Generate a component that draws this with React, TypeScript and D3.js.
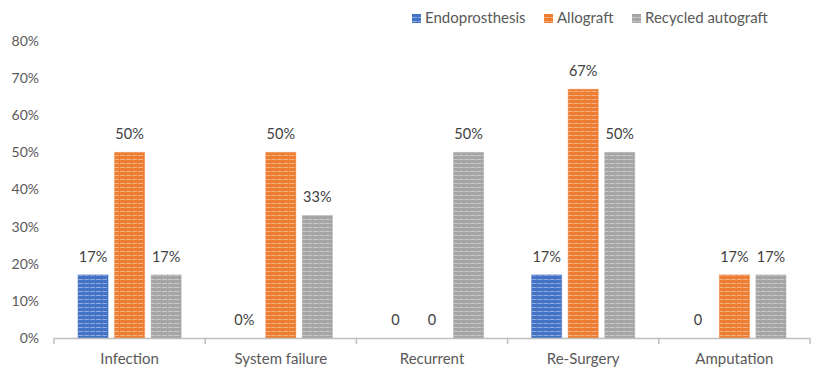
import React from "react";
import * as d3 from "d3";

const categories = ["Infection", "System failure", "Recurrent", "Re-Surgery", "Amputation"];
const seriesNames = ["Endoprosthesis", "Allograft", "Recycled autograft"];
const endoprosthesis = [0.17, 0, 0, 0.17, 0];
const allograft = [0.5, 0.5, 0, 0.67, 0.17];
const recycledAutograft = [0.17, 0.33, 0.5, 0.5, 0.17];
const endoLabels = ["17%", "0%", "0", "17%", "0"];
const alloLabels = ["50%", "50%", "0", "67%", "17%"];
const recycledLabels = ["17%", "33%", "50%", "50%", "17%"];
const yTicks = [0, 0.1, 0.2, 0.3, 0.4, 0.5, 0.6, 0.7, 0.8];
const colors = ["#4472C4", "#ED7D31", "#A5A5A5"];

const W = 817;
const H = 375;
const FONT = "Lato, 'Noto Sans', sans-serif";
const TEXT = "#595959";

export default function App() {
  const values = [endoprosthesis, allograft, recycledAutograft];
  const labels = [endoLabels, alloLabels, recycledLabels];
  const y = d3.scaleLinear().domain([0, 0.8]).range([338, 41]);
  const x0 = d3.scaleBand<string>().domain(categories).range([54, 810]).padding(0);
  const x1 = d3
    .scaleBand<string>()
    .domain(seriesNames)
    .range([0, x0.bandwidth()])
    .paddingInner(0.178)
    .paddingOuter(0.657);
  const fmt = d3.format(".0%");
  const boundaries = [...categories.map((c) => x0(c)!), x0.range()[1]];
  const legendX = [412, 544, 632];

  return (
    <svg width={W} height={H} style={{ position: "absolute", left: 0, top: 0, background: "#fff" }}>
      <defs>
        {colors.map((c, i) => (
          <pattern key={i} id={`pat${i}`} patternUnits="userSpaceOnUse" width={6} height={4}>
            <rect width={6} height={4} fill={c} />
            <rect y={3} width={5} height={1} fill="#fff" opacity={0.4} />
          </pattern>
        ))}
      </defs>
      {/* y tick labels */}
      {yTicks.map((t) => (
        <text
          key={t}
          x={39}
          y={y(t)}
          dy="0.35em"
          textAnchor="end"
          fontFamily={FONT}
          fontSize={14}
          fill={TEXT}
        >
          {fmt(t)}
        </text>
      ))}
      {/* bars */}
      {categories.map((c, ci) => (
        <g key={c} transform={`translate(${x0(c)},0)`}>
          {seriesNames.map((s, si) => {
            const v = values[si][ci];
            const bx = x1(s)!;
            const bw = x1.bandwidth();
            return (
              <g key={s}>
                {v > 0 && (
                  <rect
                    x={bx}
                    y={y(v)}
                    width={bw}
                    height={y(0) - y(v)}
                    fill={`url(#pat${si})`}
                    stroke={colors[si]}
                    strokeOpacity={0.45}
                    strokeWidth={1}
                  />
                )}
                <text
                  x={bx + bw / 2}
                  y={y(v) - 13}
                  textAnchor="middle"
                  fontFamily={FONT}
                  fontSize={14.5}
                  fill="#404040"
                >
                  {labels[si][ci]}
                </text>
              </g>
            );
          })}
        </g>
      ))}
      {/* x axis */}
      <line x1={54} x2={810} y1={338.5} y2={338.5} stroke="#BFBFBF" strokeWidth={1.5} />
      {boundaries.map((b, i) => (
        <line key={i} x1={b} x2={b} y1={338} y2={344} stroke="#BFBFBF" strokeWidth={1.5} />
      ))}
      {categories.map((c) => (
        <text
          key={c}
          x={x0(c)! + x0.bandwidth() / 2}
          y={364}
          textAnchor="middle"
          fontFamily={FONT}
          fontSize={15}
          fill={TEXT}
        >
          {c}
        </text>
      ))}
      {/* legend */}
      {seriesNames.map((s, i) => (
        <g key={s} transform={`translate(${legendX[i]},18)`}>
          <rect x={0} y={-4} width={9} height={9} fill={`url(#pat${i})`} />
          <text x={13} y={0} dy="0.35em" fontFamily={FONT} fontSize={15} fill={TEXT}>
            {s}
          </text>
        </g>
      ))}
    </svg>
  );
}
